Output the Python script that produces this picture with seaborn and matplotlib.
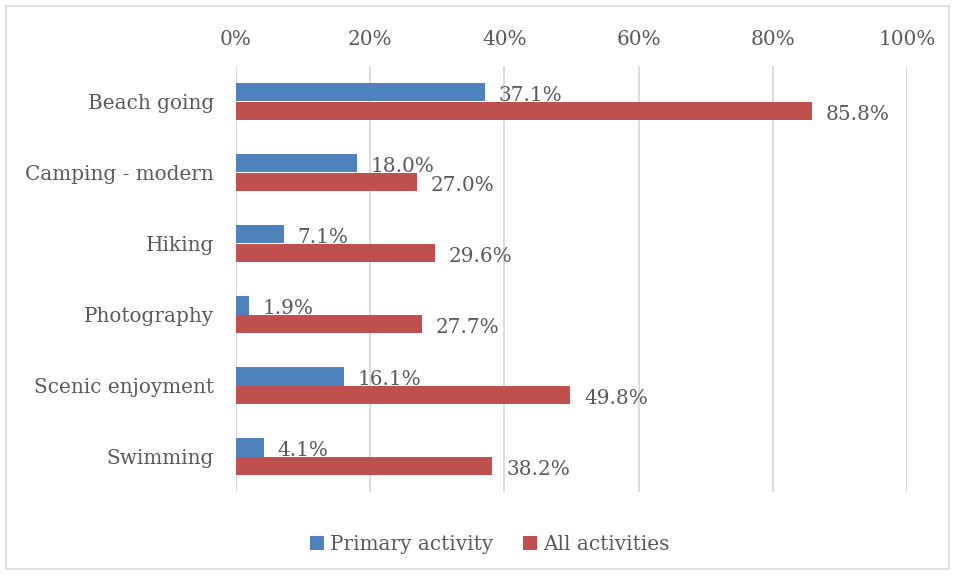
import pandas as pd
import matplotlib.pyplot as plt
import seaborn as sns
from matplotlib.patches import Rectangle
from matplotlib.ticker import PercentFormatter

activities = ["Beach going", "Camping - modern", "Hiking", "Photography",
              "Scenic enjoyment", "Swimming"]
primary = [37.1, 18.0, 7.1, 1.9, 16.1, 4.1]
all_acts = [85.8, 27.0, 29.6, 27.7, 49.8, 38.2]
series = ["Primary activity", "All activities"]
colors = ["#4F81BD", "#C0504D"]

df = pd.DataFrame({
    "activity": activities * 2,
    "value": primary + all_acts,
    "series": [series[0]] * len(activities) + [series[1]] * len(activities),
})

sns.set_style("white")
plt.rcParams["font.family"] = ["DejaVu Serif"]
text_col = "#595959"
fs = 14.4

fig = plt.figure(figsize=(9.57, 5.77), dpi=100)
ax = fig.add_axes([236 / 957, 1 - 492 / 577, 671 / 957, 426 / 577])

sns.barplot(data=df, y="activity", x="value", hue="series", order=activities,
            hue_order=series, palette=colors, orient="h", width=0.51,
            saturation=1, ax=ax, legend=True, edgecolor="none")

for cont in ax.containers:
    anns = ax.bar_label(cont, labels=[f"{v:.1f}%" for v in cont.datavalues],
                        padding=10, fontsize=fs, color=text_col)
    for a in anns:
        a.xyann = (10, -2.5)

ax.set_xlim(0, 100)
ax.set_ylim(5.5, -0.5)
ax.xaxis.set_major_formatter(PercentFormatter(decimals=0))
ax.set_xticks([0, 20, 40, 60, 80, 100])
ax.xaxis.tick_top()
ax.tick_params(axis="x", length=0, pad=12, labelsize=fs, colors=text_col)
ax.tick_params(axis="y", length=0, pad=16, labelsize=fs, colors=text_col)
ax.grid(axis="x", color="#D9D9D9", linewidth=1.3)
ax.set_axisbelow(True)
for s in ax.spines.values():
    s.set_visible(False)
ax.set_xlabel("")
ax.set_ylabel("")

handles, labels = ax.get_legend_handles_labels()
ax.legend_.remove()
fig.legend(handles, labels, loc="center", bbox_to_anchor=(490 / 957, 1 - 544 / 577),
           ncol=2, frameon=False, fontsize=fs, handlelength=0.7, handleheight=0.7,
           handletextpad=0.3, columnspacing=1.5, labelcolor=text_col)

fig.add_artist(Rectangle((6 / 957, 8 / 577), 943 / 957, 563 / 577,
                         transform=fig.transFigure, fill=False,
                         edgecolor="#D9D9D9", linewidth=1.2))

fig.savefig("out.png", dpi=100)
